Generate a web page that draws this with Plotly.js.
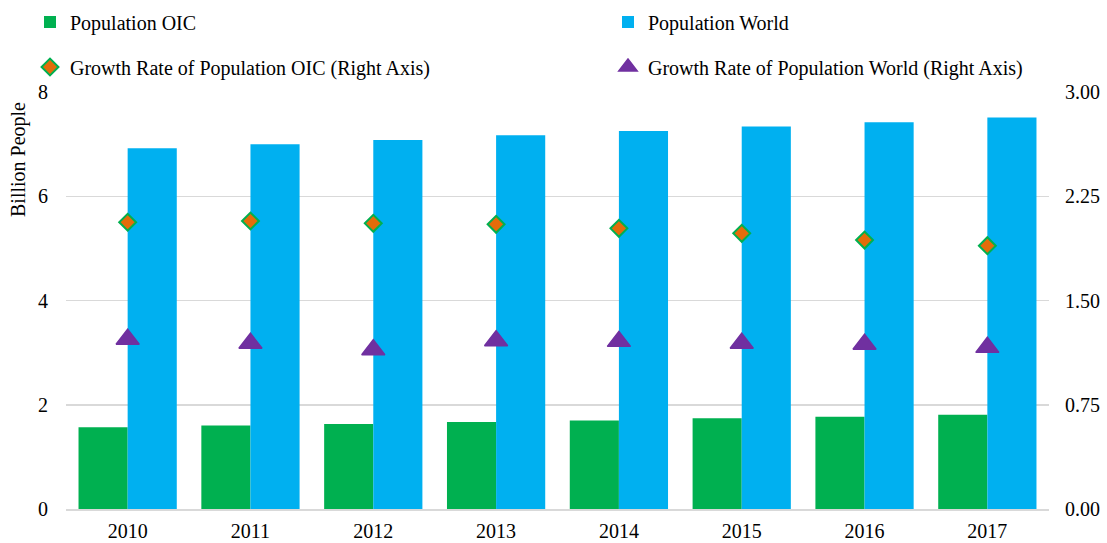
<!DOCTYPE html>
<html><head><meta charset="utf-8">
<script src="https://cdn.plot.ly/plotly-3.0.1.min.js"></script>
<style>html,body{margin:0;padding:0;background:#fff}#chart{width:1107px;height:543px}</style>
</head><body><div id="chart"></div>
<script>
const years = ['2010', '2011', '2012', '2013', '2014', '2015', '2016', '2017'];
const popOIC = [1.57, 1.60, 1.63, 1.67, 1.70, 1.74, 1.77, 1.81];
const popWorld = [6.92, 7.00, 7.08, 7.17, 7.25, 7.34, 7.42, 7.51];
const growthOIC = [2.063, 2.072, 2.055, 2.048, 2.019, 1.983, 1.935, 1.894];
const growthWorld = [1.221, 1.192, 1.146, 1.211, 1.206, 1.192, 1.185, 1.163];
const leftTicks = [0, 2, 4, 6, 8];
const rightTicks = [0, 0.75, 1.5, 2.25, 3];

const FONT = '"Liberation Serif", "Times New Roman", serif';

const traces = [
  {type: 'bar', name: 'Population OIC', x: years, y: popOIC, marker: {color: '#00B050'}, legend: 'legend'},
  {type: 'bar', name: 'Population World', x: years, y: popWorld, marker: {color: '#00B0F0'}, legend: 'legend2'},
  {type: 'scatter', mode: 'markers', name: 'Growth Rate of Population OIC (Right Axis)', x: years, y: growthOIC, yaxis: 'y2',
   marker: {symbol: 'diamond', size: 13, color: '#E46C0A', line: {color: '#00B050', width: 2}}, legend: 'legend3'},
  {type: 'scatter', mode: 'markers', name: 'Growth Rate of Population World (Right Axis)', x: years, y: growthWorld, yaxis: 'y2',
   marker: {symbol: 'triangle-up', size: 20, color: '#7030A0', line: {color: '#7030A0', width: 1.5}}, legend: 'legend4'}
];

function leg(px, py) {
  return {
    orientation: 'h', xref: 'container', yref: 'container', x: px / 1107, y: 1 - py / 543,
    xanchor: 'left', yanchor: 'middle', font: {family: FONT, size: 20, color: '#000'},
    bgcolor: 'rgba(0,0,0,0)', borderwidth: 0
  };
}

const layout = {
  width: 1107, height: 543,
  margin: {l: 66, r: 58, t: 92, b: 34},
  paper_bgcolor: '#fff', plot_bgcolor: '#fff',
  font: {family: FONT, size: 20, color: '#000'},
  barmode: 'group', bargap: 0.2, bargroupgap: 0,
  hovermode: false,
  showlegend: true,
  legend: leg(30, 22),
  legend2: leg(608, 22),
  legend3: leg(30, 67),
  legend4: leg(608, 67),
  xaxis: {type: 'category', showgrid: false, zeroline: false, showline: true, linecolor: '#D9D9D9', linewidth: 1.5,
          ticks: '', ticklabelstandoff: 3, tickfont: {family: FONT, size: 20, color: '#000'}},
  yaxis: {range: [0, 8], tickvals: leftTicks, showgrid: true, gridcolor: '#D9D9D9', gridwidth: 1.5, zeroline: false,
          showline: false, ticks: '', ticklabelstandoff: 17, tickfont: {family: FONT, size: 20, color: '#000'}},
  yaxis2: {range: [0, 3], tickvals: rightTicks, tickformat: '.2f', overlaying: 'y', side: 'right', showgrid: false,
           zeroline: false, showline: false, ticks: '', ticklabelstandoff: 15, tickfont: {family: FONT, size: 20, color: '#000'}},
  annotations: [{
    text: 'Billion People', textangle: -90, xref: 'paper', yref: 'paper',
    x: (18 - 66) / 983, y: (509 - 160) / 417, xanchor: 'center', yanchor: 'middle', showarrow: false,
    font: {family: FONT, size: 20, color: '#000'}
  }]
};

Plotly.newPlot('chart', traces, layout, {displayModeBar: false, staticPlot: true});
</script>
</body></html>
